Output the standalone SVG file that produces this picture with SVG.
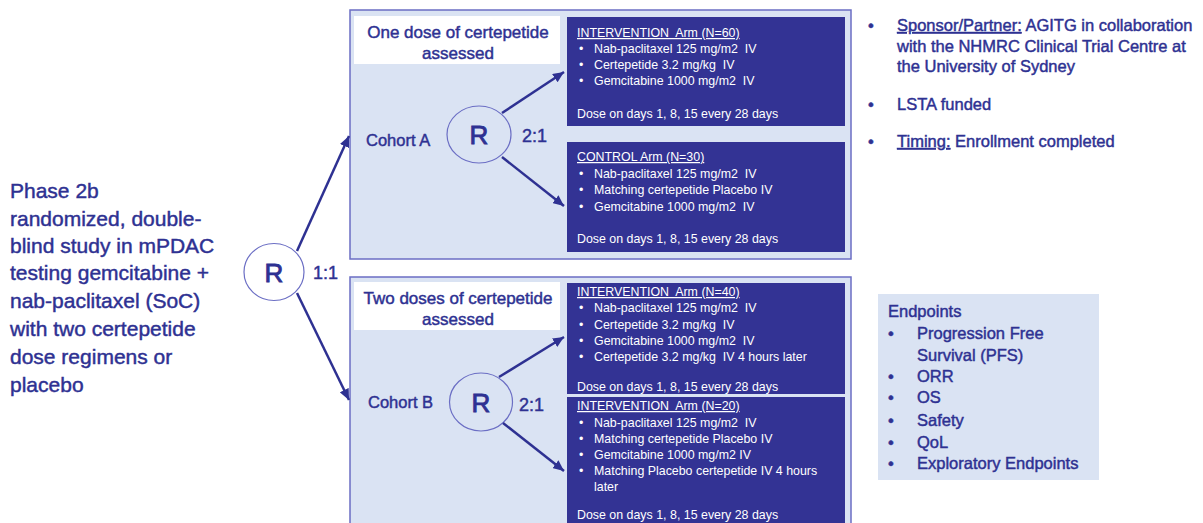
<svg xmlns="http://www.w3.org/2000/svg" width="1203" height="523" viewBox="0 0 1203 523">
<defs>
<style>
.t{font-family:"Liberation Sans",Arial,sans-serif;fill:#2E3192;stroke:#2E3192;stroke-width:0.45}
.big{font-size:21px}
.mid{font-size:17px}
.lab{font-size:16.5px}
.r{font-size:26px;text-anchor:middle;stroke-width:0.9}
.ratio{font-size:18px}
.w{font-family:"Liberation Sans",Arial,sans-serif;fill:#FFFFFF;font-size:12.4px;white-space:pre}
.u{text-decoration:underline}
.outer{fill:#DAE3F3;stroke:#6B6EC4;stroke-width:1.5}
.arm{fill:#333394}
.title{fill:#FFFFFF}
.circ{fill:none;stroke:#6B6EC4;stroke-width:1.2}
.conn{stroke:#2E3192;stroke-width:2.5;fill:none}
</style>
<marker id="ah" markerUnits="userSpaceOnUse" markerWidth="12" markerHeight="10" refX="11" refY="5" orient="auto">
<path d="M0,0 L11,5 L0,10 Z" fill="#2E3192"/>
</marker>
</defs>

<g id="study-desc">
<text class="t big" x="10" y="198">Phase 2b</text>
<text class="t big" x="10" y="226">randomized, double-</text>
<text class="t big" x="10" y="253">blind study in mPDAC</text>
<text class="t big" x="10" y="280">testing gemcitabine +</text>
<text class="t big" x="10" y="308">nab-paclitaxel (SoC)</text>
<text class="t big" x="10" y="336">with two certepetide</text>
<text class="t big" x="10" y="364">dose regimens or</text>
<text class="t big" x="10" y="392">placebo</text>
</g>

<g id="rand-main">
<ellipse class="circ" cx="274" cy="272" rx="30" ry="28.5"/>
<text class="t r" x="274" y="281.5">R</text>
<text class="t ratio" x="313" y="279">1:1</text>
</g>

<g id="cohort-a">
<rect class="outer" x="350" y="10" width="501" height="249"/>
<rect class="title" x="354" y="16" width="206" height="48"/>
<text class="t mid" x="458" y="38" text-anchor="middle">One dose of certepetide</text>
<text class="t mid" x="458" y="59" text-anchor="middle">assessed</text>
<text class="t lab" x="366" y="146">Cohort A</text>
<ellipse class="circ" cx="479" cy="134.5" rx="32" ry="28.5"/>
<text class="t r" x="479" y="144">R</text>
<text class="t ratio" x="522" y="142">2:1</text>
</g>

<g id="arm-a-int">
<rect class="arm" x="567" y="17" width="278" height="109"/>
<text class="w u" x="577" y="37">INTERVENTION  Arm (N=60)</text>
<text class="w" x="579" y="53">•</text><text class="w" x="594" y="53">Nab-paclitaxel 125 mg/m2  IV</text>
<text class="w" x="579" y="69">•</text><text class="w" x="594" y="69">Certepetide 3.2 mg/kg  IV</text>
<text class="w" x="579" y="85">•</text><text class="w" x="594" y="85">Gemcitabine 1000 mg/m2  IV</text>
<text class="w" x="577" y="118">Dose on days 1, 8, 15 every 28 days</text>
</g>

<g id="arm-a-ctrl">
<rect class="arm" x="567" y="142" width="278" height="110"/>
<text class="w u" x="577" y="161">CONTROL Arm (N=30)</text>
<text class="w" x="579" y="178">•</text><text class="w" x="594" y="178">Nab-paclitaxel 125 mg/m2  IV</text>
<text class="w" x="579" y="194">•</text><text class="w" x="594" y="194">Matching certepetide Placebo IV</text>
<text class="w" x="579" y="211">•</text><text class="w" x="594" y="211">Gemcitabine 1000 mg/m2  IV</text>
<text class="w" x="577" y="243">Dose on days 1, 8, 15 every 28 days</text>
</g>

<g id="cohort-b">
<rect class="outer" x="350" y="277" width="501" height="260"/>
<rect class="title" x="354" y="282" width="206" height="48"/>
<text class="t mid" x="458" y="304" text-anchor="middle">Two doses of certepetide</text>
<text class="t mid" x="458" y="325" text-anchor="middle">assessed</text>
<text class="t lab" x="368" y="408">Cohort B</text>
<ellipse class="circ" cx="481" cy="402" rx="31.5" ry="29"/>
<text class="t r" x="481" y="411.5">R</text>
<text class="t ratio" x="519" y="411">2:1</text>
</g>

<g id="arm-b-int40">
<rect class="arm" x="567" y="283" width="278" height="111"/>
<text class="w u" x="577" y="296">INTERVENTION  Arm (N=40)</text>
<text class="w" x="579" y="312">•</text><text class="w" x="594" y="312">Nab-paclitaxel 125 mg/m2  IV</text>
<text class="w" x="579" y="329">•</text><text class="w" x="594" y="329">Certepetide 3.2 mg/kg  IV</text>
<text class="w" x="579" y="345">•</text><text class="w" x="594" y="345">Gemcitabine 1000 mg/m2  IV</text>
<text class="w" x="579" y="361">•</text><text class="w" x="594" y="361">Certepetide 3.2 mg/kg  IV 4 hours later</text>
<text class="w" x="577" y="391">Dose on days 1, 8, 15 every 28 days</text>
</g>

<g id="arm-b-int20">
<rect class="arm" x="567" y="397" width="278" height="140"/>
<text class="w u" x="577" y="410">INTERVENTION  Arm (N=20)</text>
<text class="w" x="579" y="427">•</text><text class="w" x="594" y="427">Nab-paclitaxel 125 mg/m2  IV</text>
<text class="w" x="579" y="443">•</text><text class="w" x="594" y="443">Matching certepetide Placebo IV</text>
<text class="w" x="579" y="459">•</text><text class="w" x="594" y="459">Gemcitabine 1000 mg/m2 IV</text>
<text class="w" x="579" y="475">•</text><text class="w" x="594" y="475">Matching Placebo certepetide IV 4 hours</text>
<text class="w" x="594" y="491">later</text>
<text class="w" x="577" y="519">Dose on days 1, 8, 15 every 28 days</text>
</g>

<g id="info">
<text class="t lab" x="868" y="31">•</text>
<text class="t lab" x="897" y="31"><tspan class="u">Sponsor/Partner:</tspan> AGITG in collaboration</text>
<text class="t lab" x="897" y="52">with the NHMRC Clinical Trial Centre at</text>
<text class="t lab" x="897" y="72">the University of Sydney</text>
<text class="t lab" x="868" y="110">•</text>
<text class="t lab" x="897" y="110">LSTA funded</text>
<text class="t lab" x="868" y="147">•</text>
<text class="t lab" x="897" y="147"><tspan class="u">Timing:</tspan> Enrollment completed</text>
</g>

<g id="endpoints">
<rect x="878" y="294" width="221" height="186" fill="#DAE3F3"/>
<text class="t lab" x="888" y="317">Endpoints</text>
<text class="t lab" x="888" y="339">•</text><text class="t lab" x="917" y="339">Progression Free</text>
<text class="t lab" x="917" y="361">Survival (PFS)</text>
<text class="t lab" x="888" y="382">•</text><text class="t lab" x="917" y="382">ORR</text>
<text class="t lab" x="888" y="403">•</text><text class="t lab" x="917" y="403">OS</text>
<text class="t lab" x="888" y="426">•</text><text class="t lab" x="917" y="426">Safety</text>
<text class="t lab" x="888" y="448">•</text><text class="t lab" x="917" y="448">QoL</text>
<text class="t lab" x="888" y="469">•</text><text class="t lab" x="917" y="469">Exploratory Endpoints</text>
</g>

<g id="connectors">
<line class="conn" x1="297" y1="251" x2="349" y2="136" marker-end="url(#ah)"/>
<line class="conn" x1="297" y1="293" x2="349" y2="400" marker-end="url(#ah)"/>
<line class="conn" x1="502" y1="113" x2="564" y2="72" marker-end="url(#ah)"/>
<line class="conn" x1="502" y1="157" x2="564" y2="206" marker-end="url(#ah)"/>
<line class="conn" x1="499" y1="377" x2="564" y2="337" marker-end="url(#ah)"/>
<line class="conn" x1="503" y1="423" x2="564" y2="471" marker-end="url(#ah)"/>
</g>
</svg>
